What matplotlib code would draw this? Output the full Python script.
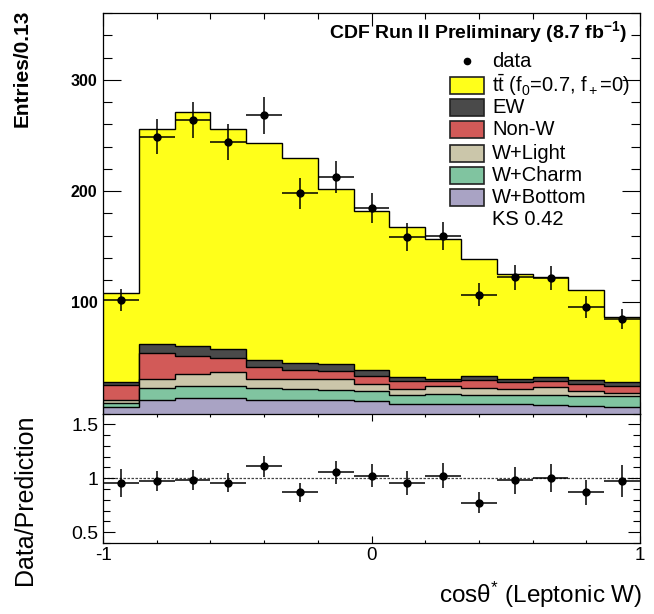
import numpy as np
import matplotlib
matplotlib.use("Agg")
import matplotlib.pyplot as plt
from matplotlib.patches import Rectangle
from matplotlib.ticker import MultipleLocator, FixedLocator

plt.rcParams['font.family'] = ['Liberation Sans', 'DejaVu Sans']
plt.rcParams['mathtext.fontset'] = 'custom'
plt.rcParams['mathtext.rm'] = 'Liberation Sans'
plt.rcParams['mathtext.it'] = 'Liberation Sans:italic'
plt.rcParams['mathtext.bf'] = 'Liberation Sans:bold'

# 15 bins in cos(theta*) from -1 to 1
bin_edges = np.linspace(-1, 1, 16)

# stacked predictions (per-bin contribution), bottom to top
w_bottom = [5.7, 12.6, 14.1, 14.1, 12.6, 12.6, 12.0, 11.0, 9.0, 9.0, 9.0, 9.0, 8.1, 7.2, 6.0]
w_charm = [3.9, 10.4, 11.0, 11.0, 10.4, 9.6, 8.9, 9.0, 8.0, 9.0, 8.0, 8.0, 8.9, 8.3, 9.5]
w_light = [3.0, 8.4, 10.8, 12.0, 8.4, 9.2, 10.5, 6.9, 5.2, 6.5, 6.0, 5.2, 6.6, 5.1, 3.1]
non_w = [12.8, 23.1, 16.1, 12.9, 10.5, 8.1, 6.6, 6.6, 6.8, 4.5, 7.5, 5.9, 6.0, 6.1, 6.5]
ew = [3.0, 8.0, 8.4, 8.0, 6.6, 6.0, 6.6, 6.0, 3.6, 2.0, 3.0, 3.0, 3.0, 3.8, 3.0]
ttbar = [79.6, 193.5, 210.6, 198.0, 195.0, 184.0, 157.4, 142.1, 135.4, 125.8, 105.5, 94.3, 89.8, 80.8, 58.4]

data = [102.3, 249, 264, 244, 268, 198, 212.5, 184.6, 158.6, 159.8, 106.8, 122.4, 121.8, 95.8, 85]
data_err = [10, 16, 16, 16, 16.5, 14, 14.5, 13.5, 12.5, 12.5, 10.5, 11, 11, 10, 9]

ratio = [0.955, 0.975, 0.985, 0.96, 1.11, 0.87, 1.055, 1.025, 0.955, 1.025, 0.775, 0.98, 1.005, 0.87, 0.975]
ratio_err = [0.13, 0.093, 0.09, 0.09, 0.10, 0.088, 0.108, 0.11, 0.11, 0.117, 0.10, 0.123, 0.13, 0.116, 0.15]

layer_names = ['W+Bottom', 'W+Charm', 'W+Light', 'Non-W', 'EW', 'tt']
layer_vals = [w_bottom, w_charm, w_light, non_w, ew, ttbar]
layer_cols = ['#a9a3c4', '#80c4a0', '#cbc6aa', '#d25a58', '#4a4a4a', '#ffff1a']

centers = 0.5 * (bin_edges[:-1] + bin_edges[1:])
half_w = 0.5 * (bin_edges[1] - bin_edges[0])

fig = plt.figure(figsize=(6.54, 6.14), dpi=100)
ax = fig.add_axes([0.1575, 0.3265, 0.8211, 0.6523])
axr = fig.add_axes([0.1575, 0.1156, 0.8211, 0.2109])

# stack: draw cumulative totals, tallest first
cum = np.cumsum(np.array(layer_vals), axis=0)
for i in range(len(layer_vals) - 1, -1, -1):
    ax.stairs(cum[i], bin_edges, baseline=0, fill=True, facecolor=layer_cols[i],
              edgecolor='black', linewidth=1.0, zorder=2 + (len(layer_vals) - i))

ax.errorbar(centers, data, xerr=half_w, yerr=data_err, fmt='o', color='black',
            ms=5, elinewidth=1.1, capsize=0, zorder=20)

ax.set_xlim(-1, 1)
ax.set_ylim(0, 360)
ax.yaxis.set_major_locator(FixedLocator([100, 200, 300]))
ax.yaxis.set_minor_locator(MultipleLocator(20))
ax.xaxis.set_major_locator(FixedLocator([-1, 0, 1]))
ax.xaxis.set_minor_locator(MultipleLocator(0.2))
ax.tick_params(axis='both', which='both', direction='in', top=True, right=True, width=0.8)
ax.tick_params(axis='y', which='major', length=13, labelsize=11.5, pad=4)
ax.tick_params(axis='y', which='minor', length=6.5)
ax.tick_params(axis='x', which='major', length=9, labelbottom=False)
ax.tick_params(axis='x', which='minor', length=4.5)
for lab in ax.get_yticklabels():
    lab.set_fontweight('bold')
for sp in ax.spines.values():
    sp.set_linewidth(0.9)

ax.text(0.976, 0.953, r'CDF Run II Preliminary (8.7 fb$^{\mathbf{-1}}$)', transform=ax.transAxes,
        ha='right', va='center', fontsize=14, fontweight='bold')

# legend drawn by hand, ROOT style
leg_rows = [0.879, 0.819, 0.764, 0.709, 0.649, 0.594, 0.539, 0.484]
leg_labels = ['data', r'$\mathrm{t\bar{t}}$ (f$_0$=0.7, f$_+$=0)', 'EW', 'Non-W',
              'W+Light', 'W+Charm', 'W+Bottom', 'KS 0.42']
box_x0, box_x1, text_x = 0.646, 0.7095, 0.7244
box_h = 0.042
box_cols = [None, layer_cols[5], layer_cols[4], layer_cols[3], layer_cols[2], layer_cols[1], layer_cols[0], None]
for yy, lab, col in zip(leg_rows, leg_labels, box_cols):
    if lab == 'data':
        ax.plot([(box_x0 + box_x1) / 2], [yy], 'o', color='black', ms=4.5,
                transform=ax.transAxes, zorder=30)
    elif col is not None:
        ax.add_patch(Rectangle((box_x0, yy - box_h / 2), box_x1 - box_x0, box_h,
                               transform=ax.transAxes, facecolor=col, edgecolor='#222222',
                               linewidth=1.2, zorder=30))
    ax.text(text_x, yy, lab, transform=ax.transAxes, ha='left', va='center',
            fontsize=14.5, zorder=30)

# ratio panel
axr.axhline(1.0, color='#444444', linestyle=(0, (2, 1.2)), linewidth=0.9, zorder=1)
axr.errorbar(centers, ratio, xerr=half_w, yerr=ratio_err, fmt='o', color='black',
             ms=5, elinewidth=1.1, capsize=0, zorder=5)
axr.set_xlim(-1, 1)
axr.set_ylim(0.4, 1.6)
axr.yaxis.set_major_locator(FixedLocator([0.5, 1.0, 1.5]))
axr.yaxis.set_minor_locator(MultipleLocator(0.1))
axr.xaxis.set_major_locator(FixedLocator([-1, 0, 1]))
axr.xaxis.set_minor_locator(MultipleLocator(0.2))
axr.set_yticklabels(['0.5', '1', '1.5'])
axr.set_xticklabels(['-1', '0', '1'])
axr.tick_params(axis='both', which='both', direction='in', top=True, right=True, width=0.8)
axr.tick_params(axis='y', which='major', length=8.5, labelsize=14, pad=3)
axr.tick_params(axis='y', which='minor', length=5)
axr.tick_params(axis='x', which='major', length=5, labelsize=13.5, pad=3)
axr.tick_params(axis='x', which='minor', length=2.5)
for sp in axr.spines.values():
    sp.set_linewidth(0.9)

fig.text(22 / 654, 1 - 10 / 614, 'Entries/0.13', rotation=90, ha='center', va='top',
         fontsize=15, fontweight='bold')
fig.text(25 / 654, 1 - 500 / 614, 'Data/Prediction', rotation=90, ha='center', va='center',
         fontsize=18)
fig.text(642 / 654, 1 - 595 / 614, 'cosθ$^{*}$ (Leptonic W)', ha='right', va='center',
         fontsize=17.5)

fig.savefig('out.png', dpi=100)
